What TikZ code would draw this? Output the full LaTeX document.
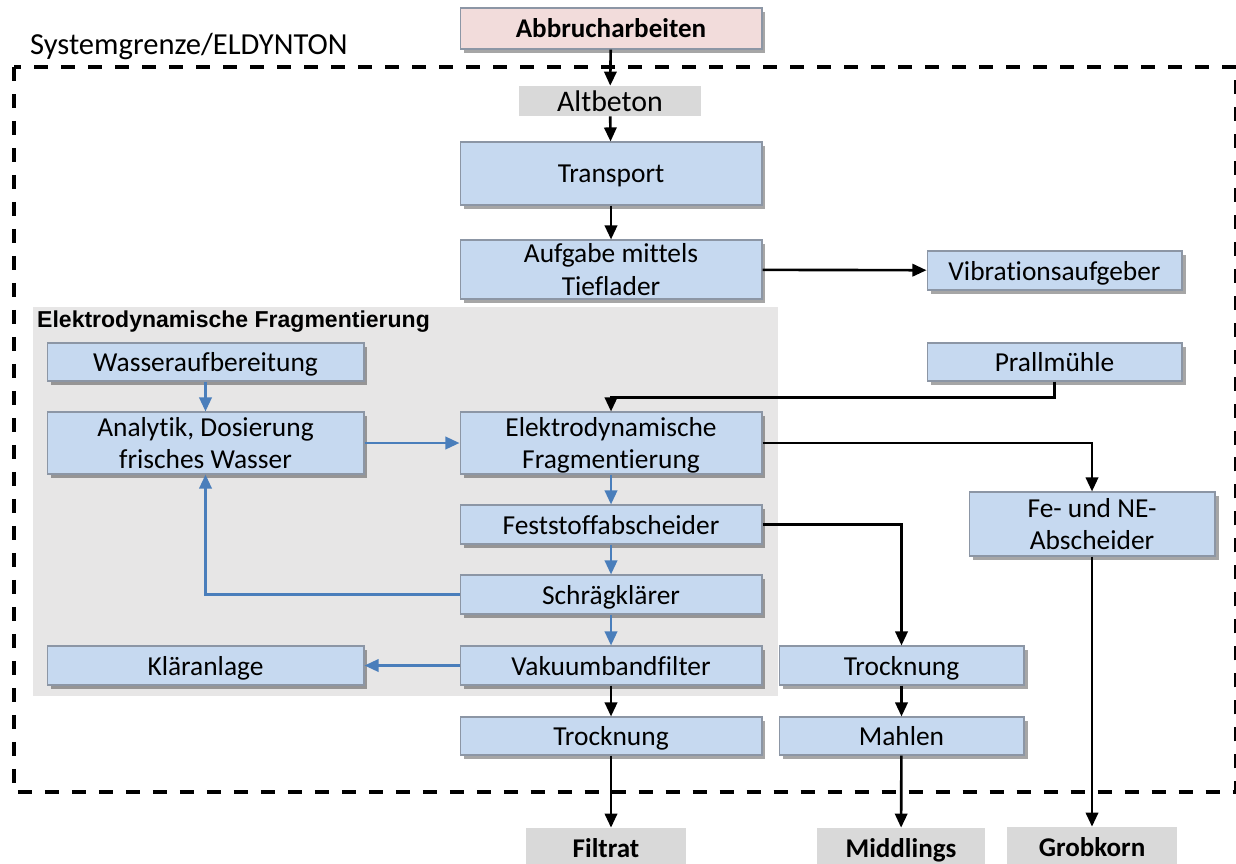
\documentclass[tikz,border=0pt]{standalone}
\usepackage{fontspec}
\setmainfont{Carlito}[Ligatures=NoCommon]
\newfontfamily\arialfont{Liberation Sans}
\usetikzlibrary{arrows.meta,shadows}

\definecolor{boxblue}{HTML}{C6D9F0}
\definecolor{boxline}{HTML}{8C96A5}
\definecolor{pinkbox}{HTML}{F2DCDB}
\definecolor{labelgray}{HTML}{D9D9D9}
\definecolor{regiongray}{HTML}{E7E6E6}
\definecolor{flowblue}{HTML}{4A7EBB}

\tikzset{
  proc/.style={draw=boxline, line width=0.6pt, fill=boxblue, align=center,
    inner sep=0pt, font=\fontsize{15.6}{18.3}\selectfont, text depth=0pt,
    drop shadow={shadow xshift=2pt, shadow yshift=-2pt, opacity=0.35, fill=black}},
  outlabel/.style={fill=labelgray, inner sep=0pt, text depth=0pt, font=\fontsize{15.4}{18}\selectfont\bfseries},
  arr/.style={line width=1.5pt, -{Triangle[length=8pt,width=7pt]}},
  warr/.style={line width=1.5pt, draw=flowblue, -{Triangle[length=8pt,width=7pt]}, flowblue}
}

\begin{document}
\begin{tikzpicture}[x=0.02cm,y=-0.02cm]
\useasboundingbox (0,0) rectangle (1236,863);

% system boundary
\draw[line width=2.2pt, dash pattern=on 0.28cm off 0.26cm] (14,67) rectangle (1236,792);
\node[anchor=west, font=\fontsize{17.4}{20}\selectfont] (sysname) at (24,47) {Systemgrenze/ELDYNTON};

% fragmentation area
\fill[regiongray] (33,307) rectangle (778,696);
\node[anchor=west, font=\arialfont\fontsize{13.1}{15}\selectfont\bfseries] (edfname) at (31,322) {Elektrodynamische Fragmentierung};

% main line
\node[proc, fill=pinkbox, minimum width=6.04cm, minimum height=0.82cm, font=\fontsize{15.4}{18}\selectfont\bfseries] (abbruch) at (611,28.5) {Abbrucharbeiten};
\node[fill=labelgray, inner sep=0pt, text depth=0pt, minimum width=3.64cm, minimum height=0.6cm, font=\fontsize{17}{20}\selectfont] (altbeton) at (610,101) {Altbeton};
\node[proc, minimum width=6.04cm, minimum height=1.26cm] (transport) at (611,173.5) {Transport};
\node[proc, minimum width=6.04cm, minimum height=1.18cm] (aufgabe) at (611,269.5) {Aufgabe mittels\\Tieflader};
\node[proc, minimum width=5.1cm, minimum height=0.78cm] (vibration) at (1054.5,270.5) {Vibrationsaufgeber};

\node[proc, minimum width=6.34cm, minimum height=0.76cm] (wasser) at (205.5,362) {Wasseraufbereitung};
\node[proc, minimum width=5.1cm, minimum height=0.76cm] (prall) at (1054.5,362) {Prallmühle};
\node[proc, minimum width=6.34cm, minimum height=1.24cm] (analytik) at (205.5,443) {Analytik, Dosierung\\frisches Wasser};
\node[proc, minimum width=6.04cm, minimum height=1.24cm] (elektro) at (611,443) {Elektrodynamische\\Fragmentierung};
\node[proc, minimum width=4.92cm, minimum height=1.28cm] (feabs) at (1092,524) {Fe- und NE-\\Abscheider};
\node[proc, minimum width=6.04cm, minimum height=0.78cm] (feststoff) at (611,524.5) {Feststoffabscheider};
\node[proc, minimum width=6.04cm, minimum height=0.78cm] (schraeg) at (611,594.5) {Schrägklärer};
\node[proc, minimum width=6.34cm, minimum height=0.78cm] (klaer) at (205.5,665.5) {Kläranlage};
\node[proc, minimum width=6.04cm, minimum height=0.78cm] (vakuum) at (611,665.5) {Vakuumbandfilter};
\node[proc, minimum width=4.9cm, minimum height=0.78cm] (trockrechts) at (901.5,665.5) {Trocknung};
\node[proc, minimum width=6.04cm, minimum height=0.76cm] (trockmitte) at (611,736) {Trocknung};
\node[proc, minimum width=4.9cm, minimum height=0.76cm] (mahlen) at (901.5,736) {Mahlen};

% outputs
\node[outlabel, minimum width=3.2cm, minimum height=0.8cm] (filtrat) at (606,848) {Filtrat};
\node[outlabel, minimum width=3.36cm, minimum height=0.8cm] (middlings) at (901,848) {Middlings};
\node[outlabel, minimum width=3.4cm, minimum height=0.8cm] (grobkorn) at (1092,847) {Grobkorn};

% black flows
\draw[arr] (abbruch) -- (altbeton);
\draw[arr] (altbeton) -- (transport);
\draw[arr] (transport) -- (aufgabe);
\draw[arr] (aufgabe) -- (vibration);
\draw[arr] (prall.south) -- ++(0,16) -| (elektro.north);
\draw[arr] (elektro.east) -| (feabs.north);
\draw[arr] (feabs) -- (grobkorn);
\draw[arr] (feststoff.east) -| (trockrechts.north);
\draw[arr] (trockrechts) -- (mahlen);
\draw[arr] (mahlen) -- (middlings);
\draw[arr] (vakuum) -- (trockmitte);
\draw[arr] (trockmitte.south) -- (trockmitte.south |- filtrat.north);

% water flows
\draw[warr] (wasser) -- (analytik);
\draw[warr] (analytik) -- (elektro);
\draw[warr] (elektro) -- (feststoff);
\draw[warr] (feststoff) -- (schraeg);
\draw[warr] (schraeg) -- (vakuum);
\draw[warr] (schraeg.west) -| (analytik.south);
\draw[warr] (vakuum) -- (klaer);
\end{tikzpicture}
\end{document}
